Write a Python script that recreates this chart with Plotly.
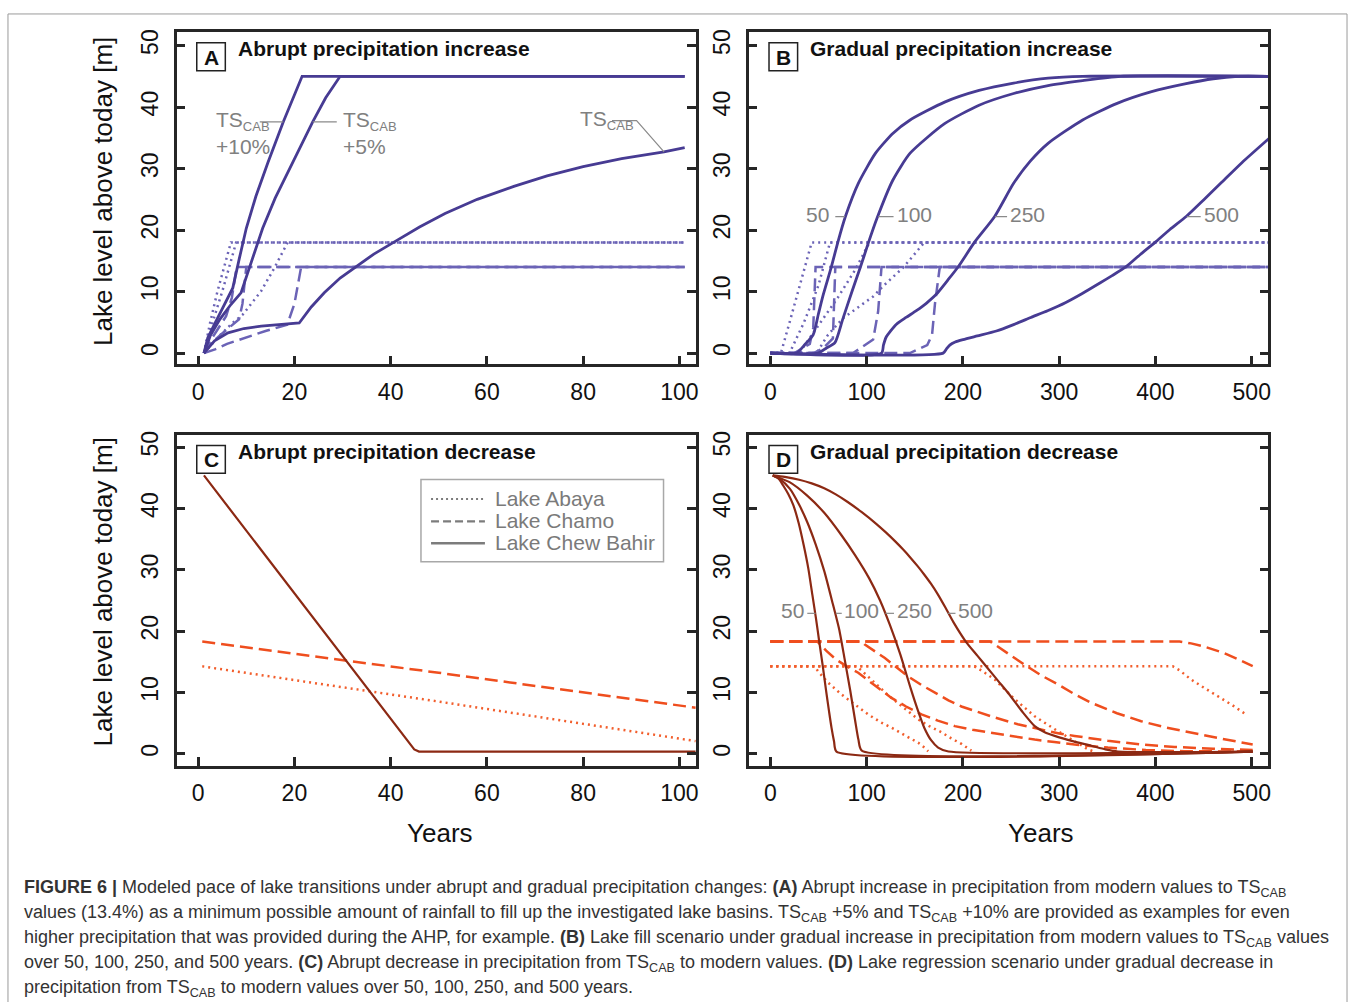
import plotly.graph_objects as go

W, H = 1358, 1002
def px(x):
    return x / W
def py(y):
    return 1 - y / H

# ---------------- tick labels ----------------
a_xticks = [0, 20, 40, 60, 80, 100]
b_xticks = [0, 100, 200, 300, 400, 500]
y_ticks = [0, 10, 20, 30, 40, 50]

# ---------------- Panel A : abrupt increase (years 0-100) ----------------
a_ts_x = [1.2, 3.4, 6.2, 9.5, 13.1, 17, 21.0, 23.5, 26.2, 29.5, 32.7, 36.5, 40.6, 46, 51.3, 58, 65.6, 72.5, 80.0, 88, 96.8, 101.1]
a_ts_y = [0, 2.0, 3.3, 4.0, 4.4, 4.7, 4.9, 7.5, 9.8, 12.2, 14.0, 16.1, 18.0, 20.5, 22.7, 25.0, 27.1, 28.8, 30.3, 31.6, 32.7, 33.4]
a_p5_x = [1.2, 2.5, 4.5, 6.8, 8.9, 11.0, 13.4, 16.0, 19.5, 23.8, 26.5, 29.5, 101.1]
a_p5_y = [0, 2.8, 5.5, 7.9, 9.8, 14.8, 20.3, 25.2, 30.8, 37.6, 41.5, 45, 45]
a_p10_x = [1.2, 2.0, 3.4, 5.0, 7.2, 8.5, 10.0, 12.0, 14.5, 17.7, 20.0, 21.6, 101.1]
a_p10_y = [0, 2.5, 4.7, 7.2, 10.6, 15.2, 20.3, 25.5, 31.0, 37.6, 42.0, 45, 45]
# Lake Chamo (dashed)
a_ch_ts_x = [1.2, 3.5, 6, 9.6, 14, 18.5, 20.0, 21.4, 101.1]
a_ch_ts_y = [0, 0.6, 1.5, 2.5, 3.6, 4.6, 8, 14, 14]
a_ch_p5_x = [1.2, 3, 5, 7, 8.5, 9.2, 10.0, 101.1]
a_ch_p5_y = [0, 1.8, 3.2, 4.5, 5.5, 8, 14, 14]
a_ch_p10_x = [1.2, 2.5, 4, 5.8, 7, 8, 101.1]
a_ch_p10_y = [0, 2, 3.8, 6, 9, 14, 14]
# Lake Abaya (dotted)
a_ab_ts_x = [1.2, 4, 7, 9.3, 13.1, 15.8, 18.6, 101.1]
a_ab_ts_y = [0, 2.5, 4.8, 6.3, 10.1, 13.8, 18, 18]
a_ab_p5_x = [1.2, 3, 5, 6.5, 7.9, 101.1]
a_ab_p5_y = [0, 5, 10, 14, 18, 18]
a_ab_p10_x = [1.2, 2.5, 4, 5.5, 6.8, 101.1]
a_ab_p10_y = [0, 5, 10, 14.5, 18, 18]

# ---------------- Panel B : gradual increase (years 0-500) ----------------
b50_x = [0, 27, 36, 44.6, 50, 55, 63.4, 70.1, 78, 91.4, 109.3, 127.2, 145.2, 181, 216.8, 252.7, 288.5, 324.4, 517]
b50_y = [0, 0, 1.4, 3.0, 6.4, 9.5, 14.0, 18.0, 22.2, 27.6, 32.5, 35.7, 37.9, 40.8, 42.7, 43.9, 44.7, 45, 45]
b100_x = [0, 49.8, 58, 67.1, 75, 85, 93.6, 102, 110.5, 127.2, 145.2, 181, 216.8, 252.7, 288.5, 324.4, 363.8, 517]
b100_y = [0, 0, 0.8, 1.7, 5.4, 10.1, 14.0, 18.0, 21.8, 28.1, 32.5, 37.3, 40.3, 42.2, 43.5, 44.3, 45, 45]
b250_x = [0, 115.5, 117.5, 120, 125, 131, 141, 151.7, 162, 172.6, 184, 195, 212, 233, 252.7, 270, 288.5, 324.4, 360.2, 396, 431.9, 460, 485.6, 517]
b250_y = [0, 0, 1.3, 2.5, 3.6, 4.7, 5.8, 6.9, 8.1, 9.6, 11.8, 14.0, 18.0, 22.2, 27.6, 31.2, 34.1, 37.9, 40.6, 42.5, 43.8, 44.6, 45, 45]
b500_x = [0, 179.5, 183, 186.4, 192, 200.2, 215, 234.8, 252, 270.6, 288, 306.4, 324, 342.3, 355, 369.2, 384, 399.6, 415, 431.9, 450, 467.7, 490, 517.9]
b500_y = [0, 0, 0.7, 1.3, 1.8, 2.2, 2.8, 3.6, 4.6, 5.8, 6.9, 8.2, 9.7, 11.4, 12.6, 14.0, 16.0, 18.0, 20.1, 22.2, 24.9, 27.6, 31.0, 34.9]
b_ch50_x = [0, 25, 41, 44.6, 47, 517]
b_ch50_y = [0, 0, 1.5, 4.1, 14, 14]
b_ch100_x = [0, 45, 55, 65, 67.5, 517]
b_ch100_y = [0, 0, 0.8, 2.4, 14, 14]
b_ch250_x = [0, 86, 106.8, 112, 115.5, 517]
b_ch250_y = [0, 0, 2.2, 6.8, 14, 14]
b_ch500_x = [0, 145, 163, 168, 171, 176, 517]
b_ch500_y = [0, 0, 1.3, 3, 8, 14, 14]
b_ab50_x = [0, 11, 20, 30, 43, 517]
b_ab50_y = [0, 0, 5, 10.8, 18, 18]
b_ab100_x = [0, 20, 35, 50, 62, 517]
b_ab100_y = [0, 0, 5, 11, 18, 18]
b_ab250_x = [0, 30, 50, 70, 88, 103, 517]
b_ab250_y = [0, 0, 4.5, 9, 13.5, 18, 18]
b_ab500_x = [0, 48, 60, 75.7, 106.8, 117.2, 138, 160, 517]
b_ab500_y = [0, 0, 3, 5.7, 9.2, 10.9, 13.9, 18, 18]

# ---------------- Panel C : abrupt decrease ----------------
c_cb_x = [1.2, 44.9, 45.9, 103.4]
c_cb_y = [45.4, 0.7, 0.35, 0.35]
c_ch_x = [0.85, 50, 103.4]
c_ch_y = [18.3, 13.2, 7.5]
c_ab_x = [0.85, 50, 103.4]
c_ab_y = [14.25, 8.5, 2.05]

# ---------------- Panel D : gradual decrease ----------------
d50_x = [2.5, 8, 13.2, 18.5, 24, 29.5, 34.7, 39.5, 43.7, 47.5, 50.8, 54.5, 58, 61, 63.5, 66.2, 68.7, 501]
d50_y = [45.4, 45, 43.8, 42.4, 40.5, 37.6, 34, 30.2, 25.9, 22, 18.3, 14.3, 10.2, 6.9, 4.3, 2.0, 0.35, 0.35]
d100_x = [2.5, 10, 20.4, 30, 38.3, 47, 56.2, 64, 71.5, 77, 83, 88, 91.5, 95, 501]
d100_y = [45.4, 44.8, 43.2, 40.6, 37.8, 34.2, 29.7, 25.0, 20.3, 15.6, 10.3, 5.5, 2.3, 0.5, 0.35]
d250_x = [2.5, 20, 38.3, 56, 74.1, 88, 102.7, 114, 124.2, 135, 145.7, 153, 160, 167, 174.3, 185, 501]
d250_y = [45.4, 44.3, 42.1, 39.3, 35.6, 32.4, 28.6, 25, 21.0, 16.2, 10.7, 7.2, 4.2, 2.2, 1.0, 0.35, 0.35]
d500_x = [2.5, 15, 30, 43, 56, 68, 80, 95, 110, 120, 130, 138, 146, 153, 160, 167, 174, 182, 190, 203, 215, 226, 237, 247, 262, 274.6, 285, 295.3, 315, 333.3, 348, 361, 501]
d500_y = [45.4, 45.15, 44.7, 44.1, 43.3, 42.3, 41.1, 39.4, 37.5, 36.1, 34.6, 33.3, 31.9, 30.6, 29.2, 27.7, 26.0, 23.8, 21.5, 18.3, 16.0, 13.9, 11.8, 9.9, 6.8, 4.5, 3.5, 2.9, 2.0, 1.3, 0.7, 0.35, 0.35]
d_ch50_x = [0, 49, 58, 68.8, 80, 91.3, 108, 125.8, 141, 157, 174, 191.6, 210, 229.6, 252, 274.6, 295, 316, 350.6, 390, 430, 501]
d_ch50_y = [18.3, 18.3, 16.8, 15.3, 14.2, 13.2, 11.2, 9.1, 7.7, 6.4, 5.4, 4.5, 3.9, 3.4, 2.8, 2.3, 1.9, 1.5, 1.0, 0.6, 0.4, 0.35]
d_ch100_x = [0, 95, 98.2, 108, 119, 131, 143.2, 157, 170.9, 185, 198.5, 215, 233.1, 257, 281.4, 300, 316, 350.6, 385.2, 420, 460, 501]
d_ch100_y = [18.3, 18.3, 17.8, 16.8, 15.6, 14.1, 12.6, 11.2, 9.9, 8.7, 7.7, 6.8, 5.9, 4.8, 3.9, 3.3, 2.9, 2.1, 1.5, 1.1, 0.8, 0.6]
d_ch250_x = [0, 228, 231.3, 247, 264.2, 281, 298.8, 316, 333.3, 360, 385.2, 410, 437, 470, 501]
d_ch250_y = [18.3, 18.3, 18.0, 16.3, 14.5, 12.8, 11.3, 9.7, 8.3, 6.6, 5.3, 4.3, 3.4, 2.4, 1.5]
d_ch500_x = [0, 425, 437, 450, 462, 471.7, 486, 501]
d_ch500_y = [18.3, 18.3, 18.0, 17.5, 16.9, 16.4, 15.4, 14.3]
d_ab50_x = [0, 46, 49.8, 60, 74, 88, 101.7, 115, 129.4, 142, 153.5, 160, 164]
d_ab50_y = [14.25, 14.25, 13.4, 11.6, 9.65, 8.0, 6.4, 5.1, 3.95, 2.8, 1.8, 1.0, 0.4]
d_ab100_x = [0, 90, 100, 108.6, 122, 136.2, 153.5, 165, 177.7, 188, 198.5, 208.8]
d_ab100_y = [14.25, 14.25, 12.8, 11.5, 9.6, 7.8, 5.6, 4.5, 3.5, 2.5, 1.6, 0.5]
d_ab250_x = [0, 212, 220, 233.1, 253.8, 274.6, 295.3, 316, 330, 336]
d_ab250_y = [14.25, 14.25, 13.5, 12.1, 8.9, 6.1, 4.0, 2.1, 0.7, 0.35]
d_ab500_x = [0, 418, 425, 437, 450, 464.7, 480, 494.1]
d_ab500_y = [14.25, 14.25, 13.6, 12.1, 10.8, 9.4, 7.9, 6.4]

# ---------------- styles ----------------
FONT = 'Liberation Sans, Arial, sans-serif'
AX = '#262626'
BLUE = '#473B93'
BLUE_L = '#6B63B6'
RED = '#8C2913'
RED_DASH = '#EF4E1E'
RED_DOT = '#F25E2C'
GRAY = '#808080'
DOT = '2px,4px'
DASH = '13px,6px'

fig = go.Figure()

def add(x, y, ax, color, dash, width, smooth=False):
    xa, ya = ax
    line = dict(color=color, dash=dash, width=width)
    if smooth:
        line.update(shape='spline', smoothing=0.6)
    fig.add_trace(go.Scatter(x=x, y=y, xaxis=xa, yaxis=ya, mode='lines', line=line,
                             showlegend=False, hoverinfo='skip'))

AXA, AXB, AXC, AXD = ('x', 'y'), ('x2', 'y2'), ('x3', 'y3'), ('x4', 'y4')

# Panel A
for xs, ys in [(a_ab_ts_x, a_ab_ts_y), (a_ab_p5_x, a_ab_p5_y), (a_ab_p10_x, a_ab_p10_y)]:
    add(xs, ys, AXA, BLUE_L, DOT, 2.5)
for xs, ys in [(a_ch_ts_x, a_ch_ts_y), (a_ch_p5_x, a_ch_p5_y), (a_ch_p10_x, a_ch_p10_y)]:
    add(xs, ys, AXA, BLUE_L, DASH, 2.5)
for xs, ys in [(a_ts_x, a_ts_y), (a_p5_x, a_p5_y), (a_p10_x, a_p10_y)]:
    add(xs, ys, AXA, BLUE, 'solid', 2.8)

# Panel B
for xs, ys in [(b_ab50_x, b_ab50_y), (b_ab100_x, b_ab100_y), (b_ab250_x, b_ab250_y), (b_ab500_x, b_ab500_y)]:
    add(xs, ys, AXB, BLUE_L, DOT, 2.5)
for xs, ys in [(b_ch50_x, b_ch50_y), (b_ch100_x, b_ch100_y), (b_ch250_x, b_ch250_y), (b_ch500_x, b_ch500_y)]:
    add(xs, ys, AXB, BLUE_L, DASH, 2.5)
for xs, ys in [(b50_x, b50_y), (b100_x, b100_y), (b250_x, b250_y), (b500_x, b500_y)]:
    add(xs, ys, AXB, BLUE, 'solid', 2.8, smooth=True)

# Panel C
add(c_ab_x, c_ab_y, AXC, RED_DOT, DOT, 2.5)
add(c_ch_x, c_ch_y, AXC, RED_DASH, DASH, 2.5)
add(c_cb_x, c_cb_y, AXC, RED, 'solid', 2.2)

# Panel D
for xs, ys in [(d_ab50_x, d_ab50_y), (d_ab100_x, d_ab100_y), (d_ab250_x, d_ab250_y), (d_ab500_x, d_ab500_y)]:
    add(xs, ys, AXD, RED_DOT, DOT, 2.5)
for xs, ys in [(d_ch50_x, d_ch50_y), (d_ch100_x, d_ch100_y), (d_ch250_x, d_ch250_y), (d_ch500_x, d_ch500_y)]:
    add(xs, ys, AXD, RED_DASH, DASH, 2.5)
for xs, ys in [(d50_x, d50_y), (d100_x, d100_y), (d250_x, d250_y), (d500_x, d500_y)]:
    add(xs, ys, AXD, RED, 'solid', 2.2, smooth=True)

# ---------------- axes ----------------
dom_left = [px(176.9), px(697.3)]
dom_right = [px(750.4), px(1271.3)]
dom_top = [py(361.7), py(28.3)]
dom_bot = [py(765.0), py(432.7)]

tickfont = dict(family=FONT, size=23, color='#111111')

def xax(domain, rng, anchor, vals):
    return dict(domain=domain, range=rng, anchor=anchor, showline=True, linecolor=AX, linewidth=2.5,
                mirror=True, ticks='inside', ticklen=9, tickwidth=2.5, tickcolor=AX,
                tickvals=vals, ticktext=[str(v) for v in vals], showgrid=False, zeroline=False,
                tickfont=tickfont, ticklabelstandoff=5, fixedrange=True)

def yax(domain, rng, anchor):
    return dict(domain=domain, range=rng, anchor=anchor, showline=True, linecolor=AX, linewidth=2.5,
                mirror='ticks', ticks='inside', ticklen=9, tickwidth=2.5, tickcolor=AX,
                tickvals=y_ticks, ticktext=[str(v) for v in y_ticks], showgrid=False, zeroline=False,
                tickfont=tickfont, tickangle=-90, ticklabelstandoff=7, fixedrange=True)

fig.update_layout(
    width=W, height=H, margin=dict(l=0, r=0, t=0, b=0),
    paper_bgcolor='white', plot_bgcolor='white', showlegend=False,
    font=dict(family=FONT),
    xaxis=xax(dom_left, [-4.5, 103.4], 'y', a_xticks),
    yaxis=yax(dom_top, [-1.81, 52.17], 'x'),
    xaxis2=xax(dom_right, [-22.4, 517.4], 'y2', b_xticks),
    yaxis2=yax(dom_top, [-1.81, 52.17], 'x2'),
    xaxis3=xax(dom_left, [-4.5, 103.4], 'y3', a_xticks),
    yaxis3=yax(dom_bot, [-2.0, 52.0], 'x3'),
    xaxis4=xax(dom_right, [-22.4, 517.4], 'y4', b_xticks),
    yaxis4=yax(dom_bot, [-2.0, 52.0], 'x4'),
)

shapes = []
annos = []

# outer figure frame
shapes.append(dict(type='rect', xref='paper', yref='paper', x0=px(8), x1=px(1350), y0=-0.05, y1=py(10),
                   line=dict(color='#9a9a9a', width=1), fillcolor='rgba(0,0,0,0)', layer='below'))

# panel letters and titles
panels = [('x', 'y', 'A', 'Abrupt precipitation increase'),
          ('x2', 'y2', 'B', 'Gradual precipitation increase'),
          ('x3', 'y3', 'C', 'Abrupt precipitation decrease'),
          ('x4', 'y4', 'D', 'Gradual precipitation decrease')]
for xa, ya, letter, title in panels:
    shapes.append(dict(type='rect', xref=xa + ' domain', yref=ya + ' domain', x0=0.039, x1=0.094,
                       y0=0.884, y1=0.968, line=dict(color='#222222', width=1.5), fillcolor='white'))
    annos.append(dict(xref=xa + ' domain', yref=ya + ' domain', x=0.0665, y=0.925, text='<b>%s</b>' % letter,
                      showarrow=False, xanchor='center', yanchor='middle',
                      font=dict(family=FONT, size=21, color='#111111')))
    annos.append(dict(xref=xa + ' domain', yref=ya + ' domain', x=0.114, y=0.95, text='<b>%s</b>' % title,
                      showarrow=False, xanchor='left', yanchor='middle',
                      font=dict(family=FONT, size=21, color='#111111')))

gfont = dict(family=FONT, size=21, color=GRAY)
TS = 'TS<sub><span style="font-size:13px">CAB</span></sub>'
# Panel A labels
for t, txt in [(3.3, TS + '<br>+10%'), (29.7, TS + '<br>+5%')]:
    annos.append(dict(xref='x', yref='y', x=t, y=40.25, text=txt, showarrow=False, xanchor='left',
                      yanchor='top', align='left', font=gfont))
annos.append(dict(xref='x', yref='y', x=78.9, y=37.9, text=TS, showarrow=False, xanchor='left',
                  yanchor='middle', font=gfont))
lcol = dict(color='#8a8a8a', width=1.2)
shapes.append(dict(type='line', xref='x', yref='y', x0=12.8, x1=17.7, y0=37.6, y1=37.6, line=lcol))
shapes.append(dict(type='line', xref='x', yref='y', x0=23.8, x1=28.8, y0=37.6, y1=37.6, line=lcol))
shapes.append(dict(type='path', xref='x', yref='y', path='M 86.0 37.8 L 91.1 37.8 L 96.8 32.7', line=lcol))

# Panel B labels
b_lab_y = 22.2
b_txt_y = 22.6
annos.append(dict(xref='x2', yref='y2', x=63.3, y=b_txt_y, text='50', showarrow=False, xanchor='right',
                  yanchor='middle', font=gfont))
shapes.append(dict(type='line', xref='x2', yref='y2', x0=67.5, x1=77.5, y0=b_lab_y, y1=b_lab_y, line=lcol))
for x0, x1, txt in [(112.0, 128.0, '100'), (233.4, 245.9, '250'), (432.5, 447.0, '500')]:
    shapes.append(dict(type='line', xref='x2', yref='y2', x0=x0, x1=x1, y0=b_lab_y, y1=b_lab_y, line=lcol))
    annos.append(dict(xref='x2', yref='y2', x=x1 + 1, y=b_txt_y, text=txt, showarrow=False, xanchor='left',
                      yanchor='middle', font=gfont))

# Panel D labels
d_lab_y = 22.9
d_txt_y = 23.3
annos.append(dict(xref='x4', yref='y4', x=36.6, y=d_txt_y, text='50', showarrow=False, xanchor='right',
                  yanchor='middle', font=gfont))
shapes.append(dict(type='line', xref='x4', yref='y4', x0=38.4, x1=47.0, y0=d_lab_y, y1=d_lab_y, line=lcol))
for x0, x1, txt in [(68.0, 74.2, '100'), (119.5, 128.5, '250'), (184.0, 192.3, '500')]:
    shapes.append(dict(type='line', xref='x4', yref='y4', x0=x0, x1=x1, y0=d_lab_y, y1=d_lab_y, line=lcol))
    annos.append(dict(xref='x4', yref='y4', x=x1 + 0.5, y=d_txt_y, text=txt, showarrow=False, xanchor='left',
                      yanchor='middle', font=gfont))

# legend (panel C)
shapes.append(dict(type='rect', xref='paper', yref='paper', x0=px(421.9), x1=px(665), y0=py(560), y1=py(477.3),
                   line=dict(color='#a8a8a8', width=1.5), fillcolor='white'))
leg_rows = [(497, 'Lake Abaya', '2px,3px', 2.0), (519.5, 'Lake Chamo', '8px,4px', 2.2), (541.5, 'Lake Chew Bahir', 'solid', 2.5)]
for yy, txt, dash, w in leg_rows:
    shapes.append(dict(type='line', xref='paper', yref='paper', x0=px(432), x1=px(486), y0=py(yy), y1=py(yy),
                       line=dict(color='#7c7c7c', width=w, dash=dash)))
    annos.append(dict(xref='paper', yref='paper', x=px(494), y=py(yy - 1), text=txt, showarrow=False,
                      xanchor='left', yanchor='middle', font=dict(family=FONT, size=21, color='#7a7a7a')))

# axis titles
tfont = dict(family=FONT, size=26, color='#111111')
for yy in [188, 590]:
    annos.append(dict(xref='paper', yref='paper', x=px(103), y=py(yy), text='Lake level above today [m]',
                      showarrow=False, textangle=-90, xanchor='center', yanchor='middle', font=tfont))
for xx in [441, 1043]:
    annos.append(dict(xref='paper', yref='paper', x=px(xx), y=py(832), text='Years', showarrow=False,
                      xanchor='center', yanchor='middle', font=tfont))

# caption
cap = [
    '<b>FIGURE 6 |</b> Modeled pace of lake transitions under abrupt and gradual precipitation changes: <b>(A)</b> Abrupt increase in precipitation from modern values to TS<sub>CAB</sub>',
    'values (13.4%) as a minimum possible amount of rainfall to fill up the investigated lake basins. TS<sub>CAB</sub> +5% and TS<sub>CAB</sub> +10% are provided as examples for even',
    'higher precipitation that was provided during the AHP, for example. <b>(B)</b> Lake fill scenario under gradual increase in precipitation from modern values to TS<sub>CAB</sub> values',
    'over 50, 100, 250, and 500 years. <b>(C)</b> Abrupt decrease in precipitation from TS<sub>CAB</sub> to modern values. <b>(D)</b> Lake regression scenario under gradual decrease in',
    'precipitation from TS<sub>CAB</sub> to modern values over 50, 100, 250, and 500 years.',
]
for i, line in enumerate(cap):
    annos.append(dict(xref='paper', yref='paper', x=px(22), y=py(888 + 25 * i), text=line, showarrow=False,
                      xanchor='left', yanchor='middle',
                      font=dict(family='Liberation Sans, Arial, sans-serif', size=18, color='#333333')))

fig.update_layout(shapes=shapes, annotations=annos)
fig.write_html('out.html', config={'displayModeBar': False})
